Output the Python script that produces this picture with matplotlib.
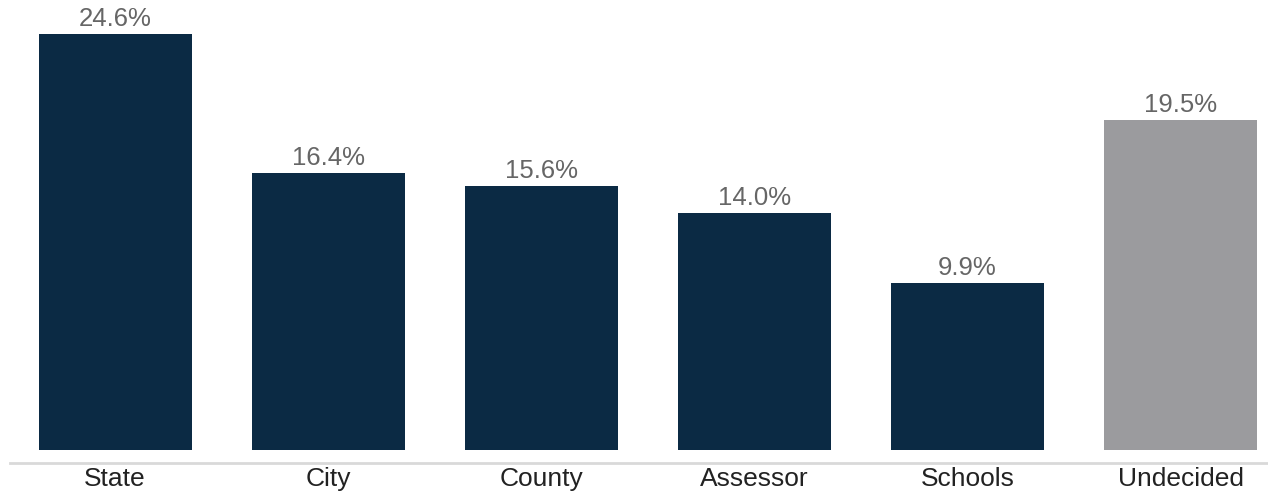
import matplotlib
matplotlib.use('Agg')
import matplotlib.pyplot as plt

plt.rcParams['font.family'] = ['Liberation Sans', 'DejaVu Sans']

categories = ['State', 'City', 'County', 'Assessor', 'Schools', 'Undecided']
values = [24.6, 16.4, 15.6, 14.0, 9.9, 19.5]
labels = ['24.6%', '16.4%', '15.6%', '14.0%', '9.9%', '19.5%']
colors = ['#0b2a44', '#0b2a44', '#0b2a44', '#0b2a44', '#0b2a44', '#9b9b9e']

fig = plt.figure(figsize=(12.68, 4.93), dpi=100)
ax = fig.add_axes([10/1268, (493-462.5)/493, 1258/1268, 462.5/493])

x = range(len(categories))
bars = ax.bar(x, values, width=0.718, color=colors)
for b, lab in zip(bars, labels):
    ax.annotate(lab, (b.get_x() + b.get_width()/2, b.get_height()),
                xytext=(0, 2), textcoords='offset points',
                ha='center', va='bottom', fontsize=18.5, color='#666666')

ax.set_xlim(-0.493, 5.41)
ax.set_ylim(-0.74, 26.61)
ax.set_xticks(list(x))
ax.set_xticklabels(categories, fontsize=19, color='#222222')
ax.tick_params(axis='x', length=0, pad=3)
ax.set_yticks([])
for s in ['top', 'right', 'left']:
    ax.spines[s].set_visible(False)
ax.spines['bottom'].set_color('#d9d9d9')
ax.spines['bottom'].set_linewidth(2)

fig.savefig('out.png', dpi=100)
